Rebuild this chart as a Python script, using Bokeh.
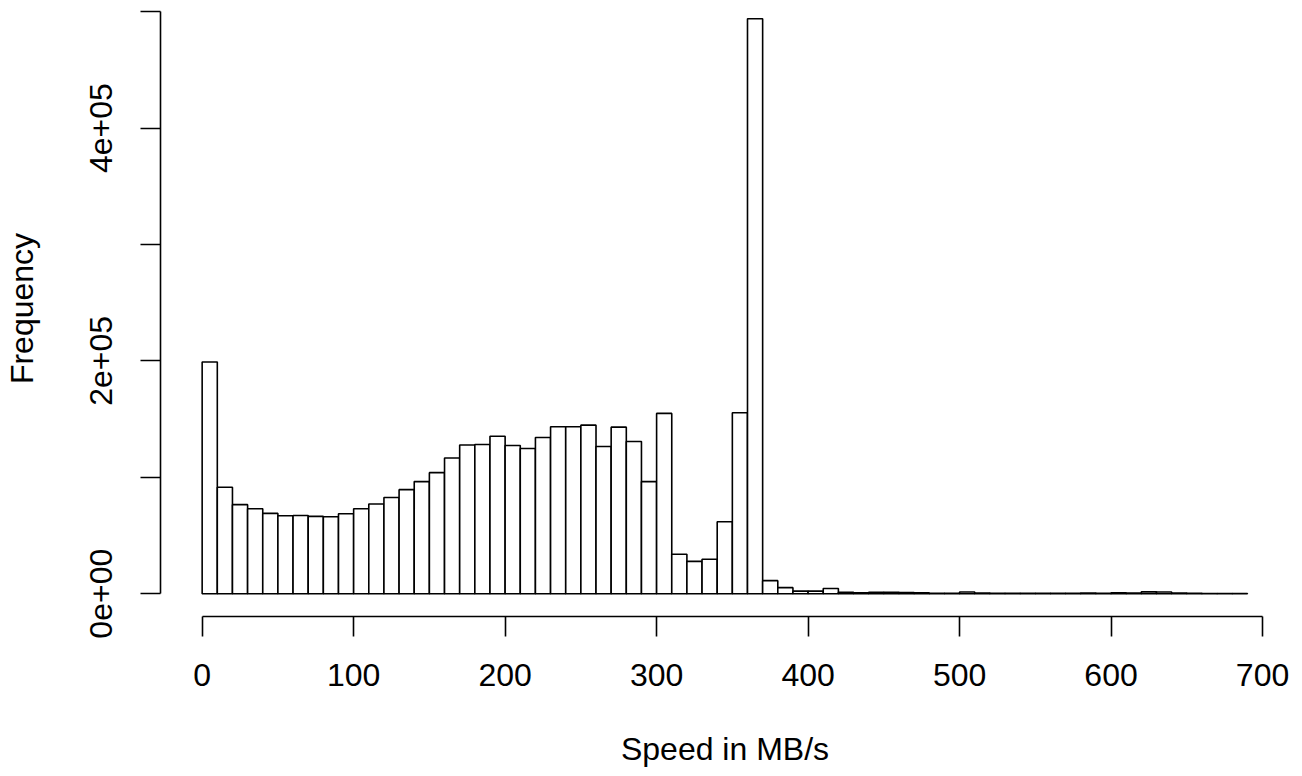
from bokeh.plotting import figure
from bokeh.models import Range1d, FixedTicker
from bokeh.embed import file_html
from bokeh.resources import INLINE

# Histogram of speeds (MB/s), bins of width 10 from 0 to 690
bin_width = 10
bin_starts = list(range(0, 690, bin_width))
counts = [
    199000, 91400, 76500, 73000, 69000, 67000, 67200, 66400, 66100, 68700,
    73000, 77000, 82700, 89400, 96300, 104000, 116600, 127800, 128200, 135300,
    127300, 124700, 134200, 143400, 143400, 144800, 126400, 143100, 130800, 96300,
    154900, 33900, 27800, 29600, 61800, 155400, 494000, 11200, 5200, 2200,
    2200, 4500, 1300, 800, 1200, 1200, 1000, 700, 400, 400,
    1500, 600, 400, 300, 300, 300, 300, 400, 500, 400,
    700, 500, 1600, 1500, 500, 300, 200, 200, 200,
]
bin_ends = [s + bin_width for s in bin_starts]

x_ticks = [0, 100, 200, 300, 400, 500, 600, 700]
y_ticks = [0, 100000, 200000, 300000, 400000, 500000]
y_tick_labels = {0: "0e+00", 100000: "", 200000: "2e+05", 300000: "", 400000: "4e+05", 500000: ""}

FONT = "Liberation Sans"

p = figure(
    width=1302, height=776,
    output_backend="svg", toolbar_location=None,
    x_range=Range1d(-27.5, 717.8), y_range=Range1d(-19588, 509620),
    min_border_left=159, min_border_right=13, min_border_top=0, min_border_bottom=160,
    x_axis_label="Speed in MB/s", y_axis_label="Frequency",
)
p.outline_line_color = None
p.xgrid.visible = False
p.ygrid.visible = False
p.background_fill_color = "white"
p.border_fill_color = "white"

p.quad(left=bin_starts, right=bin_ends, bottom=0, top=counts,
       fill_color="white", line_color="black", line_width=1.6)

for ax in (p.xaxis[0], p.yaxis[0]):
    ax.axis_line_width = 1.6
    ax.axis_line_color = "black"
    ax.major_tick_line_width = 1.6
    ax.major_tick_line_color = "black"
    ax.major_tick_out = 20
    ax.major_tick_in = 0
    ax.minor_tick_out = 0
    ax.minor_tick_in = 0
    ax.major_label_text_font = FONT
    ax.major_label_text_font_size = "32px"
    ax.major_label_text_color = "black"
    ax.axis_label_text_font = FONT
    ax.axis_label_text_font_size = "32px"
    ax.axis_label_text_font_style = "normal"
    ax.axis_label_text_color = "black"

xa = p.xaxis[0]
xa.ticker = FixedTicker(ticks=x_ticks)
xa.bounds = (0, 700)
xa.major_label_standoff = 27
xa.axis_label_standoff = 42

ya = p.yaxis[0]
ya.ticker = FixedTicker(ticks=y_ticks)
ya.bounds = (0, 500000)
ya.major_label_overrides = y_tick_labels
ya.major_label_orientation = "vertical"
ya.major_label_standoff = 28
ya.axis_label_standoff = 48

open("out.html", "w").write(file_html(p, INLINE))
